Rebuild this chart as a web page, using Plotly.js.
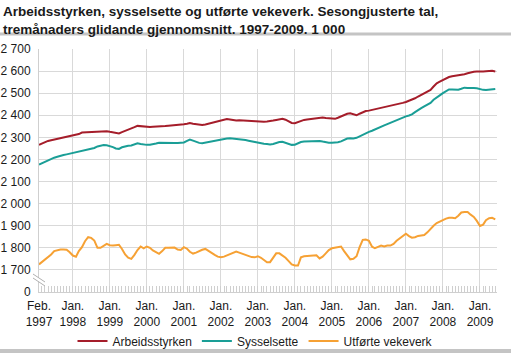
<!DOCTYPE html>
<html>
<head>
<meta charset="utf-8">
<script src="https://cdn.plot.ly/plotly-3.0.1.min.js"></script>
<style>html,body{margin:0;padding:0;background:#fff;}#chart{width:511px;height:355px;}</style>
</head>
<body>
<div id="chart"></div>
<script>
// Monthly data, Feb 1997 - Jun 2009 (1 000)
const startYear = 1997, startMonth = 2, nMonths = 149;

const arbeidsstyrken = [
  2266, 2272, 2278, 2284, 2287, 2290, 2293, 2296, 2298, 2300, 2303,
  2307, 2311, 2315, 2322, 2323, 2324, 2325, 2326, 2327, 2328, 2329, 2328,
  2325, 2322, 2319, 2318, 2324, 2329, 2333, 2338, 2346, 2352, 2350, 2348,
  2348, 2347, 2348, 2348, 2348, 2350, 2351, 2353, 2354, 2355, 2355, 2356,
  2359, 2362, 2365, 2362, 2359, 2357, 2356, 2358, 2362, 2366, 2369, 2371,
  2375, 2380, 2383, 2381, 2377, 2376, 2377, 2376, 2375, 2374, 2374, 2373,
  2373, 2372, 2371, 2372, 2373, 2376, 2379, 2382, 2384, 2380, 2372, 2365,
  2364, 2370, 2375, 2379, 2381, 2383, 2386, 2389, 2391, 2390, 2388, 2386,
  2386, 2384, 2389, 2396, 2403, 2407, 2409, 2403, 2400, 2407, 2413, 2419,
  2421, 2424, 2428, 2432, 2436, 2439, 2441, 2444, 2446, 2449, 2452, 2456,
  2460, 2465, 2470, 2477, 2485, 2492, 2500, 2507, 2515, 2530, 2545, 2552,
  2560, 2567, 2573, 2577, 2579, 2580, 2581, 2586, 2590, 2594, 2597, 2598,
  2597, 2598, 2599, 2600, 2601, 2598
];

const sysselsette = [
  2177, 2183, 2189, 2195, 2203, 2208, 2212, 2217, 2220, 2223, 2226,
  2228, 2231, 2235, 2238, 2241, 2244, 2248, 2252, 2259, 2263, 2265, 2264,
  2261, 2256, 2250, 2248, 2255, 2260, 2262, 2263, 2268, 2273, 2270, 2267,
  2266, 2267, 2268, 2272, 2276, 2275, 2274, 2273, 2273, 2274, 2275, 2276,
  2277, 2284, 2290, 2285, 2279, 2275, 2273, 2276, 2280, 2283, 2286, 2288,
  2290, 2293, 2295, 2296, 2295, 2293, 2291, 2290, 2288, 2285, 2282, 2278,
  2275, 2273, 2271, 2270, 2268, 2270, 2275, 2279, 2280, 2276, 2270, 2266,
  2267, 2274, 2279, 2281, 2282, 2283, 2284, 2285, 2284, 2281, 2277, 2276,
  2276, 2276, 2278, 2282, 2290, 2295, 2296, 2295, 2298, 2305, 2312, 2320,
  2325, 2330, 2335, 2340, 2347, 2354, 2360, 2366, 2372, 2378, 2385, 2390,
  2395, 2399, 2404, 2414, 2424, 2432, 2440, 2448, 2456, 2470, 2482, 2490,
  2500, 2510, 2517, 2517, 2515, 2516, 2520, 2525, 2524, 2522, 2523, 2522,
  2518, 2515, 2514, 2516, 2518, 2519
];

const vekeverk = [
  1725, 1735, 1745, 1757, 1770, 1785, 1790, 1792, 1792, 1791, 1780,
  1765, 1760, 1785, 1803, 1830, 1848, 1845, 1833, 1800, 1800, 1808, 1818,
  1812, 1810, 1812, 1814, 1795, 1770, 1755, 1750, 1768, 1790, 1806, 1798,
  1806, 1800, 1788, 1780, 1773, 1785, 1800, 1800, 1800, 1801, 1792, 1790,
  1803, 1796, 1782, 1774, 1778, 1785, 1791, 1795, 1785, 1775, 1768, 1760,
  1757, 1760, 1765, 1770, 1778, 1783, 1778, 1773, 1767, 1762, 1758, 1757,
  1762, 1755, 1745, 1735, 1735, 1753, 1775, 1775, 1765, 1755, 1740, 1725,
  1720, 1720, 1757, 1762, 1763, 1765, 1767, 1766, 1752, 1760, 1775, 1790,
  1798, 1800, 1805, 1806, 1785, 1765, 1748, 1750, 1762, 1803, 1836, 1838,
  1832, 1805, 1798, 1804, 1810, 1806, 1810, 1810, 1818, 1832, 1843, 1856,
  1864, 1853, 1846, 1848, 1854, 1856, 1858, 1870, 1886, 1900, 1912, 1920,
  1925, 1932, 1936, 1936, 1934, 1945, 1960, 1962, 1962, 1950, 1940, 1922,
  1899, 1905, 1925, 1934, 1936, 1929
];

const seriesNames = ["Arbeidsstyrken", "Sysselsette", "Utførte vekeverk"];
const seriesColors = ["#a51d2a", "#1a9e96", "#f6a134"];

const titleText = "Arbeidsstyrken, sysselsette og utførte vekeverk. Sesongjusterte tal,<br>tremånaders glidande gjennomsnitt. 1997-2009. 1 000";

const xTickVals = ["1997-02-01","1998-01-01","1999-01-01","2000-01-01","2001-01-01","2002-01-01",
  "2003-01-01","2004-01-01","2005-01-01","2006-01-01","2007-01-01","2008-01-01","2009-01-01"];
const xTickText = ["Feb.<br>1997","Jan.<br>1998","Jan.<br>1999","Jan.<br>2000","Jan.<br>2001","Jan.<br>2002",
  "Jan.<br>2003","Jan.<br>2004","Jan.<br>2005","Jan.<br>2006","Jan.<br>2007","Jan.<br>2008","Jan.<br>2009"];
const yTickVals = [1600,1700,1800,1900,2000,2100,2200,2300,2400,2500,2600,2700];
const yTickText = ["0","1 700","1 800","1 900","2 000","2 100","2 200","2 300","2 400","2 500","2 600","2 700"];

// month dates
const months = [];
for (let i = 0; i < nMonths; i++) {
  const m0 = startMonth - 1 + i;
  const y = startYear + Math.floor(m0 / 12);
  const m = (m0 % 12) + 1;
  months.push(y + "-" + String(m).padStart(2, "0") + "-01");
}

const values = [arbeidsstyrken, sysselsette, vekeverk];
const traces = values.map((v, k) => ({
  type: "scatter", mode: "lines", x: months, y: v, name: seriesNames[k],
  line: {color: seriesColors[k], width: 2}, hoverinfo: "skip"
}));

// geometry helpers for decoration (plot area: left 39, top 49, w 458, h 243)
const L = 39, T = 49, W = 458, H = 243;
const px = x => (x - L) / W;
const py = y => (T + H - y) / H;
const grey = "#cfcfcf";

const shapes = [
  {type:"line", xref:"paper", yref:"paper", x0:px(0), x1:px(511), y0:py(34), y1:py(34), line:{color:"#c4c4c4", width:3}},
  {type:"line", xref:"paper", yref:"paper", x0:px(0), x1:px(511), y0:py(351), y1:py(351), line:{color:"#c4c4c4", width:4}},
  // axis break
  {type:"path", xref:"paper", yref:"paper",
   path:`M ${px(33)} ${py(274)} L ${px(45)} ${py(282)} L ${px(45)} ${py(286)} L ${px(33)} ${py(278)} Z`,
   fillcolor:"#ffffff", line:{width:0}},
  {type:"line", xref:"paper", yref:"paper", x0:px(33), x1:px(45), y0:py(274), y1:py(282), line:{color:"#b0b0b0", width:1}},
  {type:"line", xref:"paper", yref:"paper", x0:px(33), x1:px(45), y0:py(278), y1:py(286), line:{color:"#b0b0b0", width:1}}
];

const font = "'Liberation Sans', Arial, sans-serif";
const layout = {
  width: 511, height: 355,
  margin: {l: L, r: 511 - L - W, t: T, b: 355 - T - H, pad: 0},
  paper_bgcolor: "#ffffff", plot_bgcolor: "#ffffff",
  font: {family: font, size: 12, color: "#1a1a1a"},
  annotations: [{
    text: titleText, xref: "paper", yref: "paper", x: px(1), y: py(1.5),
    xanchor: "left", yanchor: "top", align: "left", showarrow: false,
    font: {family: font, size: 13.5, weight: "bold", color: "#1a1a1a"}
  }],
  showlegend: true,
  legend: {
    orientation: "h", xref: "container", yref: "container", x: 0.5, xanchor: "center",
    y: 1 - 341/355, yanchor: "middle", font: {family: font, size: 12, color: "#1a1a1a"},
    bgcolor: "rgba(0,0,0,0)"
  },
  xaxis: {
    type: "date", range: ["1997-02-01", "2009-06-18"],
    tickmode: "array", tickvals: xTickVals, ticktext: xTickText,
    showgrid: true, gridcolor: "#d9d9d9", gridwidth: 1,
    showline: true, linecolor: grey, linewidth: 1,
    ticks: "inside", ticklen: 6, tickcolor: grey, ticklabelstandoff: 3,
    minor: {dtick: "M1", tick0: "1997-02-01", ticks: "inside", ticklen: 6, tickcolor: grey, showgrid: false},
    tickfont: {family: font, size: 12, color: "#1a1a1a"},
    zeroline: false, fixedrange: true
  },
  yaxis: {
    range: [1600, 2700], tickmode: "array", tickvals: yTickVals, ticktext: yTickText,
    showgrid: true, gridcolor: "#d9d9d9", gridwidth: 1,
    showline: true, linecolor: grey, linewidth: 1,
    ticks: "", ticklabelstandoff: 5,
    tickfont: {family: font, size: 12, color: "#1a1a1a"},
    zeroline: false, fixedrange: true
  },
  shapes: shapes
};

Plotly.newPlot("chart", traces, layout, {displayModeBar: false, staticPlot: true});
</script>
</body>
</html>
